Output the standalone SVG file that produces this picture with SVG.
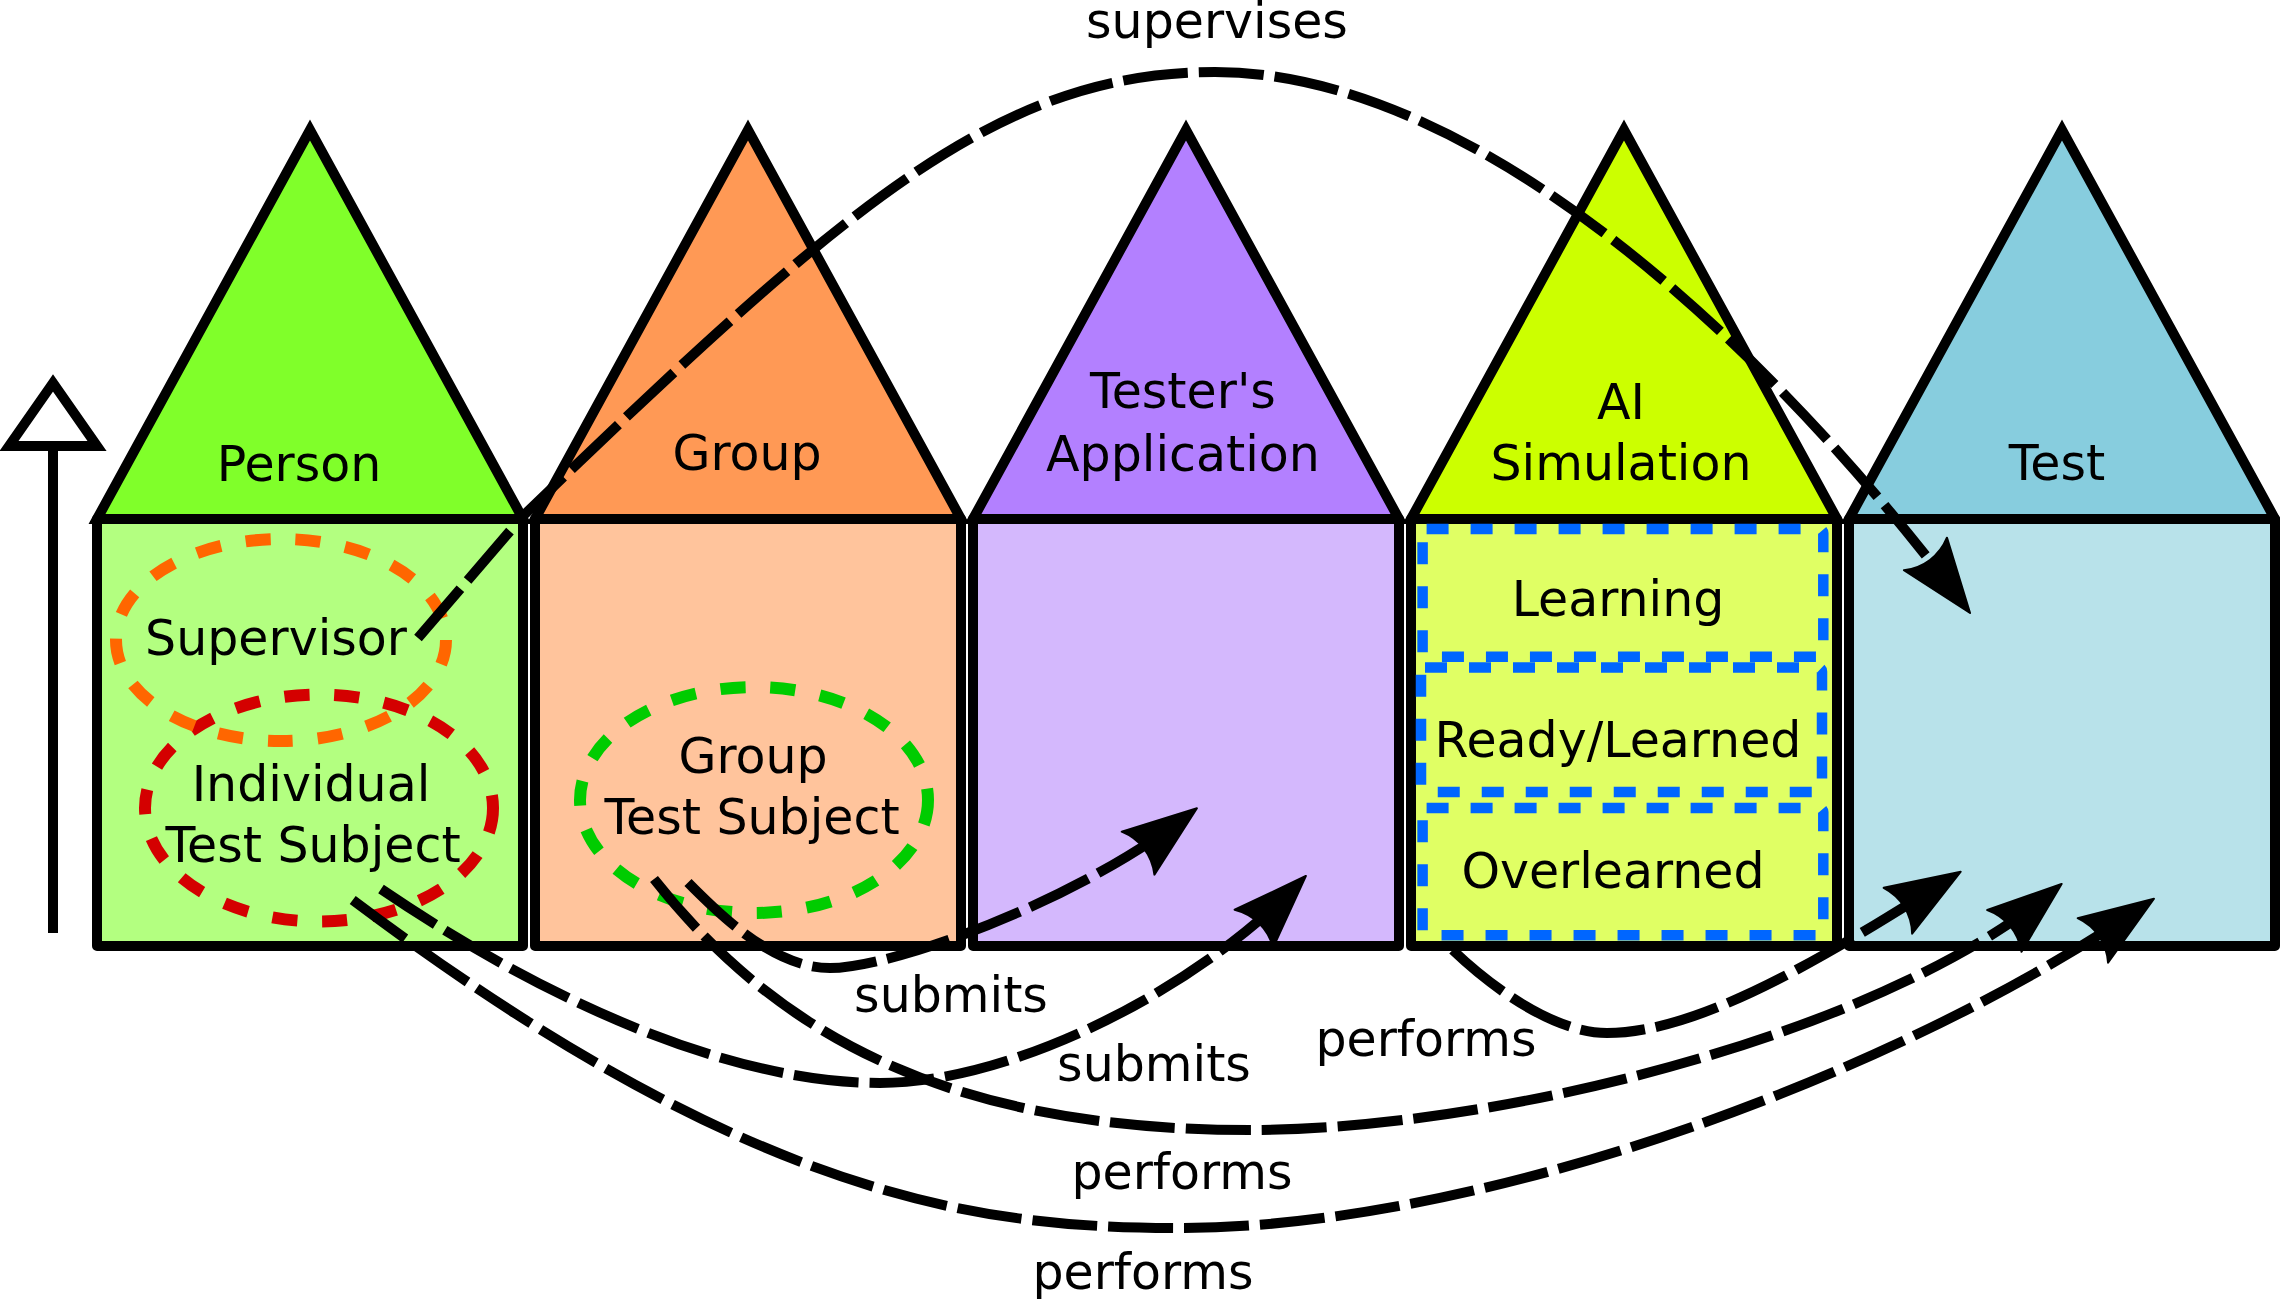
<svg xmlns="http://www.w3.org/2000/svg" width="2280" height="1303" viewBox="0 0 2280 1303">
<defs>
<style>
.tri{stroke:#000;stroke-width:10;stroke-linejoin:miter;stroke-miterlimit:10}
.box{stroke:#000;stroke-width:10;stroke-linejoin:round}
text{font-family:"DejaVu Sans","Liberation Sans",sans-serif;font-size:49px;fill:#000;text-anchor:middle}
.conn{fill:none;stroke:#000;stroke-width:10;stroke-dasharray:65 11}
.state{fill:none;stroke:#0066ff;stroke-width:10.5;stroke-dasharray:22 22}
.role{fill:none;stroke-width:12;stroke-dasharray:25 25}
</style>
<marker id="ah" markerUnits="userSpaceOnUse" orient="auto" refX="0" refY="0" markerWidth="100" markerHeight="100" overflow="visible">
<path d="M15,0 L-59,-27 C-49,-10 -49,10 -59,27 Z" fill="#000" stroke="#000" stroke-width="2" stroke-linejoin="round"/>
</marker>
</defs>
<rect width="2280" height="1303" fill="#fff"/>

<g id="hierarchy-arrow">
<line x1="53" y1="933" x2="53" y2="446" stroke="#000" stroke-width="10"/>
<polygon points="53,383 9,446 97,446" fill="#fff" stroke="#000" stroke-width="10" stroke-linejoin="miter"/>
</g>

<g id="person">
<polygon class="tri" points="97,519 310,130 523,519" fill="#80ff2a"/>
<rect class="box" x="97" y="519" width="426" height="427" fill="#b3ff80"/>
<text x="299" y="481">Person</text>
</g>

<g id="group">
<polygon class="tri" points="535,519 748,130 961,519" fill="#ff9955"/>
<rect class="box" x="535" y="519" width="426" height="427" fill="#ffc49c"/>
<text x="747" y="470">Group</text>
</g>

<g id="testers-application">
<polygon class="tri" points="973,519 1186,130 1399,519" fill="#b380ff"/>
<rect class="box" x="973" y="519" width="426" height="427" fill="#d4b8fd"/>
<text x="1183" y="408">Tester's</text>
<text x="1183" y="471">Application</text>
</g>

<g id="ai-simulation">
<polygon class="tri" points="1411,519 1624,130 1837,519" fill="#ccff00"/>
<rect class="box" x="1411" y="519" width="426" height="427" fill="#e0ff64"/>
<text x="1621" y="419">AI</text>
<text x="1621" y="480">Simulation</text>
</g>

<g id="test">
<polygon class="tri" points="1849,519 2062,130 2275,519" fill="#87cdde"/>
<rect class="box" x="1849" y="519" width="426" height="427" fill="#b8e2ea"/>
<text x="2057" y="480">Test</text>
</g>

<g id="individual-test-subject">
<ellipse class="role" cx="319" cy="808" rx="174" ry="113.5" stroke="#d40000"/>
<text x="311" y="801">Individual</text>
<text x="313" y="862">Test Subject</text>
</g>

<g id="supervisor">
<ellipse class="role" cx="281" cy="640" rx="165" ry="101" stroke="#ff6600" stroke-width="11" stroke-dasharray="22 23"/>
<text x="276" y="655">Supervisor</text>
</g>

<g id="group-test-subject">
<ellipse class="role" cx="754" cy="800" rx="174" ry="113" stroke="#00cc00"/>
<text x="753" y="773">Group</text>
<text x="752" y="834">Test Subject</text>
</g>

<g id="learning">
<rect class="state" x="1422.6" y="529" width="400.7" height="127.7" rx="4"/>
<text x="1618" y="616">Learning</text>
</g>
<g id="ready-learned">
<rect class="state" x="1421" y="667.5" width="401" height="124.5" rx="4"/>
<text x="1618" y="757">Ready/Learned</text>
</g>
<g id="overlearned">
<rect class="state" x="1422.6" y="808" width="400.7" height="127.3" rx="4"/>
<text x="1613" y="888">Overlearned</text>
</g>

<g id="connectors">
<path class="conn" marker-end="url(#ah)" d="M418,638 L523,516 C850,200 1000,72 1215,72 C1465,72 1750,322 1961,601"/>
<path class="conn" marker-end="url(#ah)" d="M688,882.5 C723,918 775,968 830,968 C890,968 1070,905 1185,817.4"/>
<path class="conn" marker-end="url(#ah)" d="M381,889 C546.6,1001.4 730,1083 880,1083 C1010,1083 1190,993.5 1295.3,886.7"/>
<path class="conn" marker-end="url(#ah)" d="M654,879 C778,1036 950,1130 1250,1130 C1500,1130 1880,1033 2050,893.5"/>
<path class="conn" marker-end="url(#ah)" d="M352.7,900 C752.7,1200 980,1228 1180,1228 C1480,1228 1894,1076 2141.6,907.2"/>
<path class="conn" marker-end="url(#ah)" stroke-dasharray="140 11 65 11 65 11 65 11 65 11 65 11 65 11" d="M1452.7,950 C1496,991.4 1557,1033 1607,1033 C1707,1033 1846,943 1948,879.6"/>
<text x="1217" y="38">supervises</text>
<text x="951" y="1012">submits</text>
<text x="1154" y="1081">submits</text>
<text x="1426" y="1056">performs</text>
<text x="1182" y="1189">performs</text>
<text x="1143" y="1289">performs</text>
</g>
</svg>
